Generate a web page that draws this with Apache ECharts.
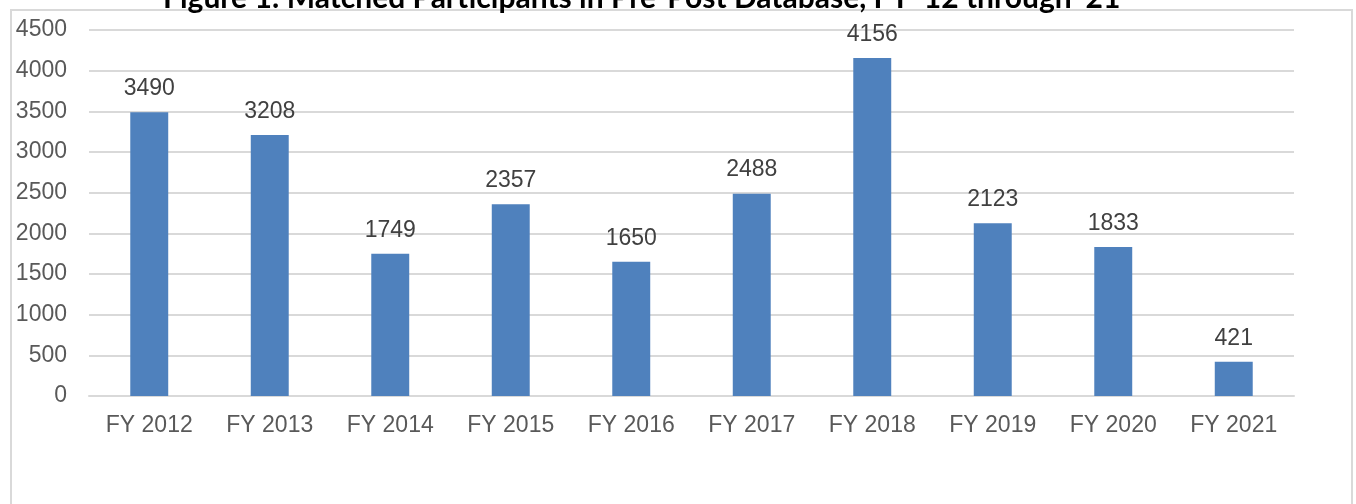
<!DOCTYPE html>
<html>
<head>
<meta charset="utf-8">
<script src="https://cdn.jsdelivr.net/npm/echarts@6/dist/echarts.min.js"></script>
<style>
  html, body { margin: 0; padding: 0; background: #fff; }
  #chart { width: 1356px; height: 504px; }
</style>
</head>
<body>
<div id="chart"></div>
<script>
const titleText = 'Figure 1: Matched Participants in Pre-Post Database, FY \u201812 through \u201821';
const years = ['FY 2012', 'FY 2013', 'FY 2014', 'FY 2015', 'FY 2016', 'FY 2017', 'FY 2018', 'FY 2019', 'FY 2020', 'FY 2021'];
const participants = [3490, 3208, 1749, 2357, 1650, 2488, 4156, 2123, 1833, 421];

const myChart = echarts.init(document.getElementById('chart'));
const labelFont = 'Liberation Sans, Arial, sans-serif';

const option = {
  animation: false,
  title: {
    text: titleText,
    left: 158,
    top: -22,
    textStyle: { fontFamily: 'Lato', fontWeight: 'bold', fontSize: 30, color: '#000' },
  },
  graphic: [
    {
      type: 'rect',
      shape: { x: 11, y: 10, width: 1341, height: 600 },
      style: { fill: 'none', stroke: '#d9d9d9', lineWidth: 2 },
      silent: true,
    },
  ],
  grid: { left: 89, right: 62, top: 30, bottom: 108 },
  xAxis: {
    type: 'category',
    data: years,
    axisLine: { lineStyle: { color: '#d9d9d9', width: 2 } },
    axisTick: { show: false },
    axisLabel: { color: '#595959', fontSize: 23, fontFamily: labelFont, margin: 18 },
  },
  yAxis: {
    type: 'value',
    min: 0,
    max: 4500,
    interval: 500,
    axisLine: { show: false },
    axisTick: { show: false },
    splitLine: { lineStyle: { color: '#d9d9d9', width: 2 } },
    axisLabel: { color: '#595959', fontSize: 23, fontFamily: labelFont, margin: 22, formatter: (v) => String(v) },
  },
  series: [
    {
      name: 'Participants',
      type: 'bar',
      data: participants,
      barWidth: '31.5%',
      itemStyle: { color: '#4f81bd' },
      label: {
        show: true,
        position: 'top',
        distance: 12,
        color: '#404040',
        fontSize: 23,
        fontFamily: labelFont,
      },
    },
  ],
};

myChart.setOption(option);
</script>
</body>
</html>
